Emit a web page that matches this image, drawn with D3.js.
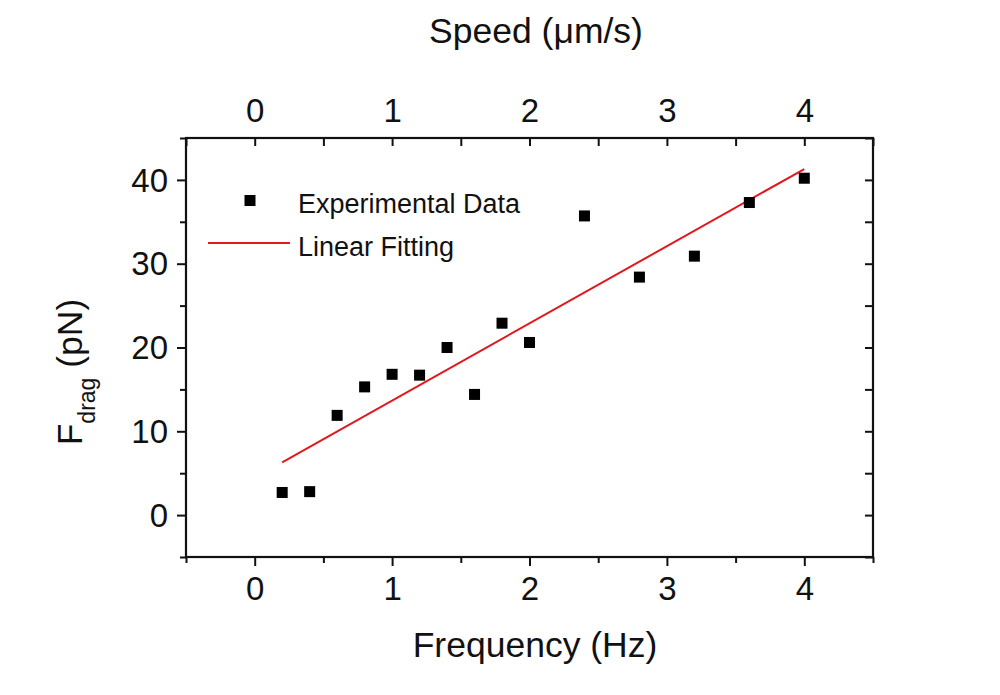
<!DOCTYPE html>
<html>
<head>
  <meta charset="utf-8">
  <title>Drag force vs frequency</title>
  <style>
    body { margin: 0; background: #fff; }
    text { font-family: "Liberation Sans", Arial, sans-serif; fill: #111; }
  </style>
</head>
<body>
  <script src="https://cdn.jsdelivr.net/npm/d3@7"></script>
  <script>
    // data
    var freq = [0.2, 0.4, 0.6, 0.8, 1.0, 1.2, 1.4, 1.6, 1.8, 2.0, 2.4, 2.8, 3.2, 3.6, 4.0];
    var drag = [2.7, 2.8, 11.9, 15.3, 16.8, 16.7, 20.0, 14.4, 22.9, 20.6, 35.7, 28.4, 30.9, 37.3, 40.2];
    var fitFreq = [0.2, 4.0];
    var fitDrag = [6.3, 41.3];
    var xTicks = [0, 1, 2, 3, 4];
    var xMinor = [-0.5, 0.5, 1.5, 2.5, 3.5, 4.5];
    var yTicks = [0, 10, 20, 30, 40];
    var yMinor = [-5, 5, 15, 25, 35, 45];

    var width = 1000, height = 695;
    var plot = {left: 186, right: 873, top: 138, bottom: 557};

    var svg = d3.select("body").append("svg")
      .attr("width", width)
      .attr("height", height);

    var x = d3.scaleLinear().domain([-0.5, 4.5]).range([plot.left, plot.right]);
    var y = d3.scaleLinear().domain([-5, 45]).range([plot.bottom, plot.top]);

    function styleAxis(g) {
      g.select(".domain").remove();
      g.selectAll("line").attr("stroke", "#111").attr("stroke-width", 2);
      g.selectAll("text").attr("font-size", 33).attr("fill", "#111")
        .attr("font-family", "'Liberation Sans', Arial, sans-serif");
    }

    // bottom axis (frequency), outward ticks
    var gb = svg.append("g").attr("transform", "translate(0," + plot.bottom + ")")
      .call(d3.axisBottom(x).tickValues(xTicks).tickSize(9).tickSizeOuter(0).tickFormat(d3.format("d")));
    styleAxis(gb);
    gb.selectAll("text").attr("y", 43).attr("dy", null);
    var gbm = svg.append("g").attr("transform", "translate(0," + plot.bottom + ")")
      .call(d3.axisBottom(x).tickValues(xMinor).tickSize(6).tickSizeOuter(0).tickFormat(""));
    styleAxis(gbm);

    // top axis (speed), inward ticks
    var gt = svg.append("g").attr("transform", "translate(0," + plot.top + ")")
      .call(d3.axisTop(x).tickValues(xTicks).tickSize(-8).tickSizeOuter(0).tickFormat(d3.format("d")));
    styleAxis(gt);
    gt.selectAll("text").attr("y", -16).attr("dy", null);
    var gtm = svg.append("g").attr("transform", "translate(0," + plot.top + ")")
      .call(d3.axisTop(x).tickValues(xMinor).tickSize(-8).tickSizeOuter(0).tickFormat(""));
    styleAxis(gtm);

    // left axis, outward ticks
    var gl = svg.append("g").attr("transform", "translate(" + plot.left + ",0)")
      .call(d3.axisLeft(y).tickValues(yTicks).tickSize(9).tickSizeOuter(0).tickFormat(d3.format("d")));
    styleAxis(gl);
    gl.selectAll("text").attr("x", -18).attr("dy", "0.34em");
    var glm = svg.append("g").attr("transform", "translate(" + plot.left + ",0)")
      .call(d3.axisLeft(y).tickValues(yMinor).tickSize(6).tickSizeOuter(0).tickFormat(""));
    styleAxis(glm);

    // right axis, inward ticks, no labels
    var gr = svg.append("g").attr("transform", "translate(" + plot.right + ",0)")
      .call(d3.axisRight(y).tickValues(yTicks.concat(yMinor)).tickSize(-8).tickSizeOuter(0).tickFormat(""));
    styleAxis(gr);

    // frame
    svg.append("rect")
      .attr("x", plot.left).attr("y", plot.top)
      .attr("width", plot.right - plot.left).attr("height", plot.bottom - plot.top)
      .attr("fill", "none").attr("stroke", "#111").attr("stroke-width", 2.2);

    // fit line
    var line = d3.line().x(function (d) { return x(d[0]); }).y(function (d) { return y(d[1]); });
    svg.append("path")
      .datum(d3.zip(fitFreq, fitDrag))
      .attr("d", line)
      .attr("fill", "none").attr("stroke", "#e0191e").attr("stroke-width", 2);

    // data points
    var sq = 11;
    svg.selectAll("rect.pt")
      .data(d3.zip(freq, drag))
      .enter().append("rect")
      .attr("class", "pt")
      .attr("x", function (d) { return x(d[0]) - sq / 2; })
      .attr("y", function (d) { return y(d[1]) - sq / 2; })
      .attr("width", sq).attr("height", sq)
      .attr("fill", "#000");

    // legend
    svg.append("rect").attr("x", 244.5).attr("y", 195).attr("width", sq).attr("height", sq).attr("fill", "#000");
    svg.append("text").attr("x", 298).attr("y", 213).attr("font-size", 27).text("Experimental Data");
    svg.append("line").attr("x1", 208).attr("x2", 290).attr("y1", 243).attr("y2", 243)
      .attr("stroke", "#e0191e").attr("stroke-width", 2);
    svg.append("text").attr("x", 298).attr("y", 256).attr("font-size", 27).text("Linear Fitting");

    // axis titles
    svg.append("text").attr("x", 535).attr("y", 657).attr("text-anchor", "middle")
      .attr("font-size", 35.5).text("Frequency (Hz)");
    svg.append("text").attr("x", 536).attr("y", 43).attr("text-anchor", "middle")
      .attr("font-size", 35.5).text("Speed (\u03BCm/s)");

    var yt = svg.append("text")
      .attr("transform", "translate(82,372) rotate(-90)")
      .attr("text-anchor", "middle")
      .attr("font-size", 35.5);
    yt.append("tspan").text("F");
    yt.append("tspan").attr("font-size", 23).attr("dy", 13).text("drag");
    yt.append("tspan").attr("dy", -13).text(" (pN)");
  </script>
</body>
</html>
